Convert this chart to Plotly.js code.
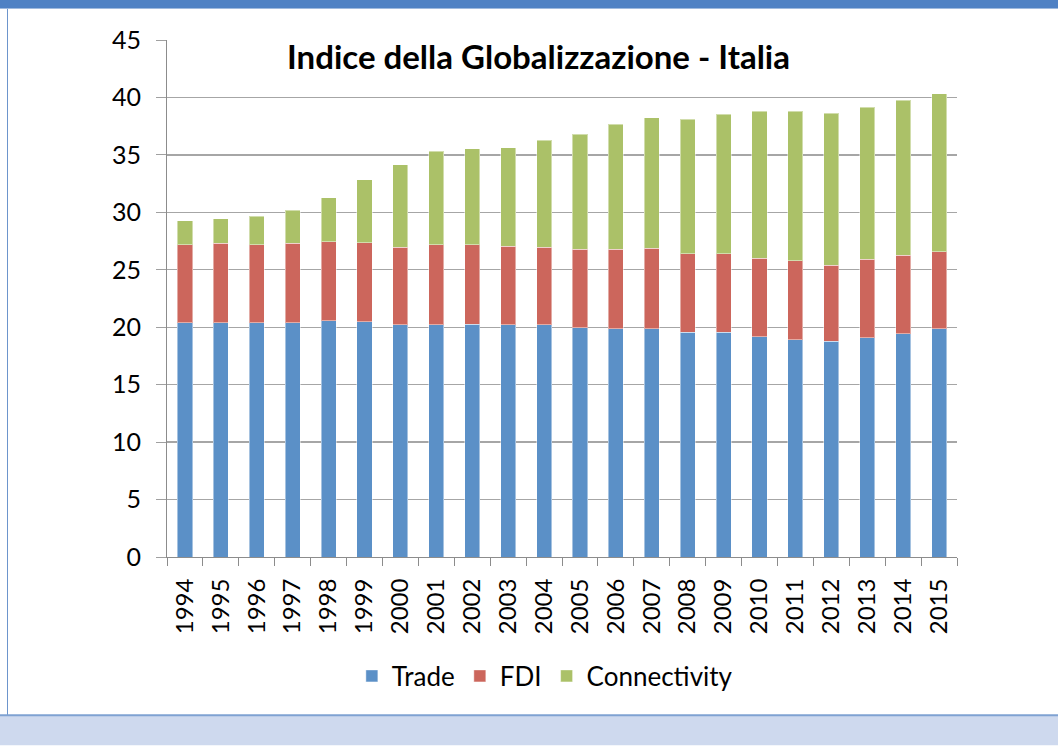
<!DOCTYPE html>
<html>
<head>
<meta charset="utf-8">
<script src="https://cdn.plot.ly/plotly-3.0.1.min.js"></script>
<style>
html,body{margin:0;padding:0;background:#fff;}
#chart{width:1058px;height:746px;}
</style>
</head>
<body>
<div id="chart"></div>
<script>
const years = ["1994","1995","1996","1997","1998","1999","2000","2001","2002","2003","2004",
               "2005","2006","2007","2008","2009","2010","2011","2012","2013","2014","2015"];
const trade = [20.37,20.37,20.37,20.37,20.58,20.46,20.20,20.20,20.26,20.20,20.20,
               19.94,19.86,19.86,19.57,19.57,19.19,18.90,18.78,19.07,19.45,19.86];
const fdi = [6.80,6.92,6.80,6.92,6.88,6.91,6.76,6.97,6.91,6.85,6.76,
             6.83,6.91,7.00,6.82,6.82,6.80,6.88,6.63,6.83,6.83,6.71];
const connectivity = [2.11,2.16,2.48,2.91,3.82,5.48,7.20,8.15,8.36,8.56,9.32,
                      10.01,10.88,11.37,11.73,12.13,12.79,13.00,13.20,13.26,13.49,13.75];
const yTicks = [0,5,10,15,20,25,30,35,40,45];

const W = 1058, H = 746;
const M = {l:167, r:101, t:40, b:188.5};
const pw = W - M.l - M.r, ph = H - M.t - M.b;
const px2x = p => (p - M.l) / pw;
const py2y = p => (H - M.b - p) / ph;

const FONT = "Lato, 'Open Sans', sans-serif";
const lineEdge = {color:'rgba(255,255,255,0.45)', width:1};

const traces = [
  {type:'bar', name:'Trade', x:years, y:trade, marker:{color:'#5B90C7', line:lineEdge}},
  {type:'bar', name:'FDI', x:years, y:fdi, marker:{color:'#CC665C', line:lineEdge}},
  {type:'bar', name:'Connectivity', x:years, y:connectivity, marker:{color:'#ABC168', line:lineEdge}}
];

const shapes = [
  {type:'rect', xref:'paper', yref:'paper', x0:px2x(0), x1:px2x(W), y0:py2y(0), y1:py2y(8),
   fillcolor:'#4F81C4', line:{width:0}, layer:'below'},
  {type:'line', xref:'paper', yref:'paper', x0:px2x(0), x1:px2x(W), y0:py2y(8.5), y1:py2y(8.5),
   line:{color:'#9DB8DE', width:1}, layer:'below'},
  {type:'line', xref:'paper', yref:'paper', x0:px2x(7.5), x1:px2x(7.5), y0:py2y(9), y1:py2y(716),
   line:{color:'#6D95CC', width:1}, layer:'below'},
  {type:'rect', xref:'paper', yref:'paper', x0:px2x(0), x1:px2x(W), y0:py2y(716), y1:py2y(H),
   fillcolor:'#CED9EE', line:{width:0}, layer:'below'},
  {type:'line', xref:'paper', yref:'paper', x0:px2x(0), x1:px2x(W), y0:py2y(716), y1:py2y(716),
   line:{color:'#7FA2D2', width:2}, layer:'below'}
];

const layout = {
  width:W, height:H,
  margin:M,
  paper_bgcolor:'#ffffff',
  plot_bgcolor:'rgba(0,0,0,0)',
  barmode:'stack',
  bargap:0.58,
  font:{family:FONT, color:'#000'},
  title:{text:'<b>Indice della Globalizzazione - Italia</b>', font:{family:FONT, size:33, color:'#000'},
         xref:'container', x:0.509, xanchor:'center', yref:'container', y:1-57/H, yanchor:'middle'},
  xaxis:{type:'category', tickangle:-90, tickson:'boundaries', ticks:'outside', ticklen:8,
         tickcolor:'#8C8C8C', showline:true, linecolor:'#8C8C8C', linewidth:1,
         showgrid:false, tickfont:{family:FONT, size:24, color:'#000'}, ticklabelstandoff:11,
         automargin:false, fixedrange:true},
  yaxis:{range:[0,45], tickvals:yTicks, ticktext:yTicks.map(String), ticks:'outside', ticklen:10,
         tickcolor:'#A0A0A0', showline:true, linecolor:'#8C8C8C', linewidth:1,
         showgrid:true, gridcolor:'#A6A6A6', gridwidth:1.3, zeroline:false,
         tickfont:{family:FONT, size:25, color:'#000'}, ticklabelstandoff:10, automargin:false},
  legend:{orientation:'h', xref:'container', x:0.515, xanchor:'center', yref:'container', y:1-676/H,
          yanchor:'middle', font:{family:FONT, size:26, color:'#000'}, traceorder:'normal',
          itemwidth:30, bgcolor:'rgba(0,0,0,0)'},
  shapes:shapes,
  showlegend:true
};

Plotly.newPlot('chart', traces, layout, {displayModeBar:false, staticPlot:true});
</script>
</body>
</html>
